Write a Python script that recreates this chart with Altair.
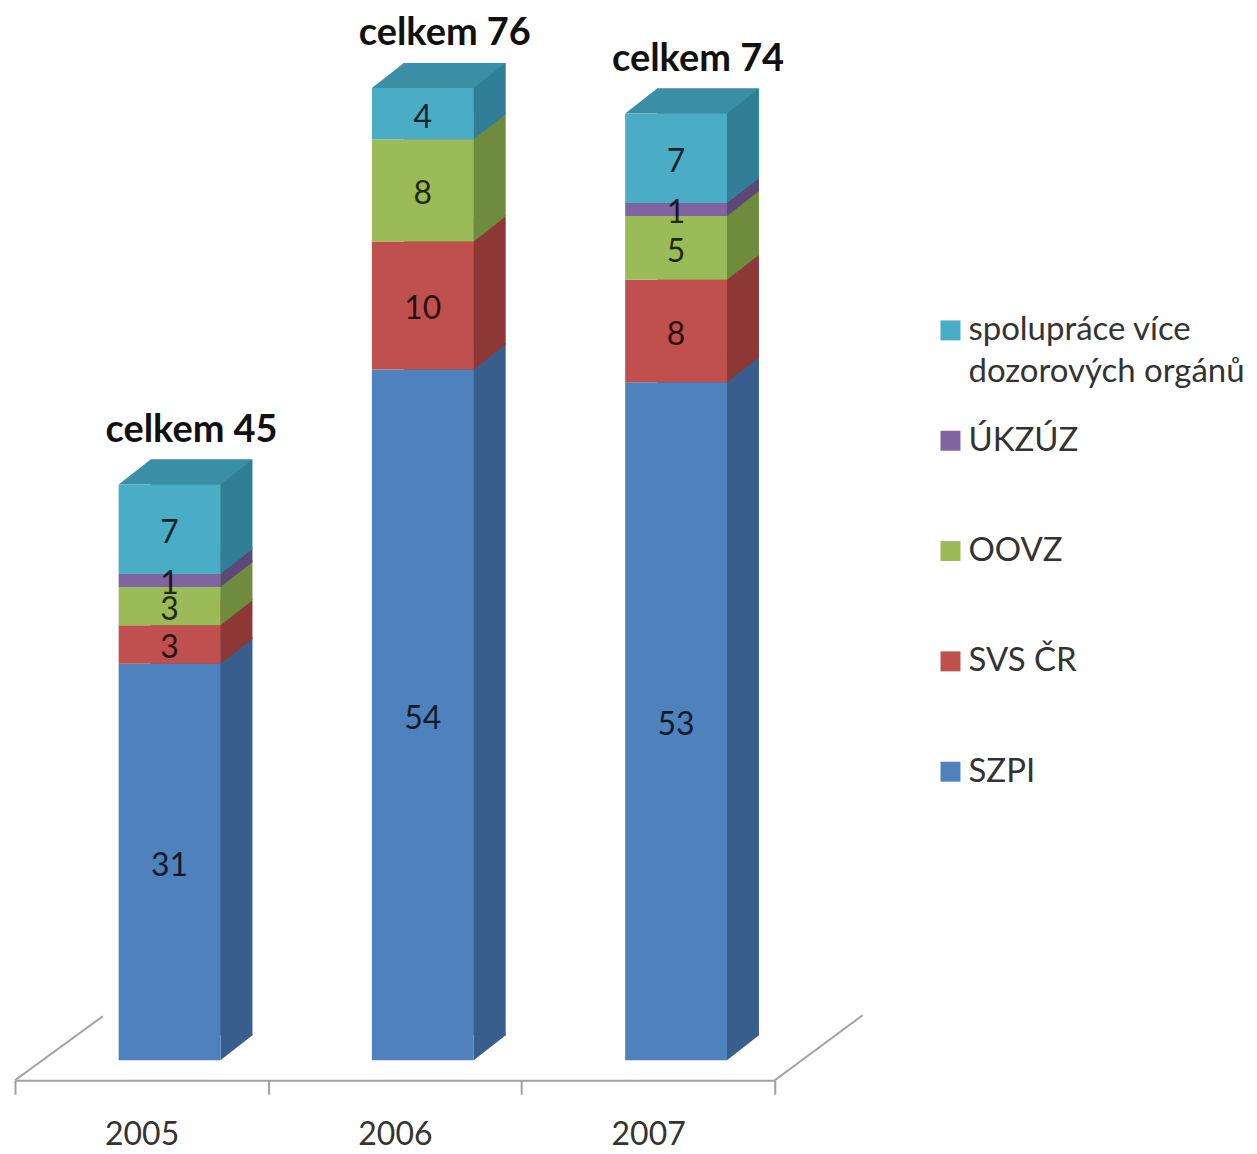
import altair as alt
import pandas as pd

# ---------------- data ----------------
YEARS = ["2005", "2006", "2007"]
SERIES = ["SZPI", "SVS ČR", "OOVZ", "ÚKZÚZ", "spolupráce více dozorových orgánů"]  # bottom -> top
SZPI = [31, 54, 53]
SVS_CR = [3, 10, 8]
OOVZ = [3, 8, 5]
UKZUZ = [1, 0, 1]
SPOLUPRACE = [7, 4, 7]
TOTAL_PREFIX = "celkem"
LEGEND_ORDER = ["spolupráce více dozorových orgánů", "ÚKZÚZ", "OOVZ", "SVS ČR", "SZPI"]
LEGEND_LABELS = ["spolupráce více\ndozorových orgánů", "ÚKZÚZ", "OOVZ", "SVS ČR", "SZPI"]

# ---------------- styles ----------------
FRONT = ["#4f81bd", "#c0504d", "#9bbb59", "#8064a2", "#4bacc6"]
SIDE = ["#375e8c", "#8e3835", "#6f8b3e", "#5c4776", "#307f96"]
TOP = "#3a8ea6"
FONT = "Lato"
W, H = 761, 1043
YMAX = 81.4
BAR_W = 102
FRONT_DX = 28
DEPTH_X, DEPTH_Y = 32, 25

values_by_series = [SZPI, SVS_CR, OOVZ, UKZUZ, SPOLUPRACE]
rows = []
for yi, year in enumerate(YEARS):
    base = 0
    for si, s in enumerate(SERIES):
        v = values_by_series[si][yi]
        rows.append(dict(year=year, series=s, value=v, y0=base, y1=base + v, mid=base + v / 2))
        base += v
seg = pd.DataFrame(rows)
seg_nz = seg[seg.value > 0].reset_index(drop=True)
tot = seg.groupby("year", as_index=False, sort=False)["value"].sum().rename(columns={"value": "total"})
tot["label"] = TOTAL_PREFIX + " " + tot["total"].astype(str)
leg = pd.DataFrame({"series": LEGEND_ORDER, "label": LEGEND_LABELS})

x_enc = alt.X(
    "year:N",
    scale=alt.Scale(domain=YEARS, paddingInner=0, paddingOuter=0),
    axis=alt.Axis(
        title=None, labelAngle=0, labelFont=FONT, labelFontSize=32, labelColor="#333333",
        labelPadding=25, tickBand="extent", tickSize=14, tickColor="#a0a0a0", tickWidth=2,
        domainColor="#a0a0a0", domainWidth=2, offset=20, grid=False,
    ),
)
yscale = alt.Scale(domain=[0, YMAX], nice=False, zero=True)
front_color = alt.Color("series:N", scale=alt.Scale(domain=SERIES, range=FRONT), legend=None)
side_color = alt.Color("series:N", scale=alt.Scale(domain=SERIES, range=SIDE), legend=None)

half = 32
dyu = DEPTH_Y / half
tri_path = "M 0 0 L 1 -{a:.5f} L 1 -{b:.5f} L 0 -{b:.5f} Z".format(a=dyu, b=dyu + 1.5 / half)
tw = BAR_W + DEPTH_X
th = tw / 2
top_path = "M 0 0 L {a:.5f} -{b:.5f} L 2 -{b:.5f} L {c:.5f} 0 Z".format(
    a=DEPTH_X / th, b=DEPTH_Y / th, c=BAR_W / th)

floor_left = alt.Chart(pd.DataFrame({"k": [0]})).mark_rule(color="#a0a0a0", strokeWidth=2).encode(
    x=alt.value(0), x2=alt.value(88), y=alt.value(H + 20), y2=alt.value(H - 44))
floor_right = alt.Chart(pd.DataFrame({"k": [0]})).mark_rule(color="#a0a0a0", strokeWidth=2).encode(
    x=alt.value(W), x2=alt.value(W + 88), y=alt.value(H + 20), y2=alt.value(H - 45))

depth = alt.Chart(seg_nz).mark_bar(
    width=BAR_W, xOffset=FRONT_DX + DEPTH_X, yOffset=-DEPTH_Y, y2Offset=-DEPTH_Y
).encode(
    x=x_enc,
    y=alt.Y("y0:Q", scale=yscale, axis=None),
    y2="y1:Q",
    color=side_color,
)
tris = alt.Chart(seg_nz).mark_point(
    shape=tri_path, size=(2 * half) ** 2, filled=True, opacity=1, strokeWidth=0,
    xOffset=FRONT_DX + BAR_W / 2,
).encode(
    x=x_enc,
    y=alt.Y("y0:Q", scale=yscale, axis=None),
    color=side_color,
)
top_face = alt.Chart(tot).mark_point(
    shape=top_path, size=(2 * th) ** 2, filled=True, opacity=1, strokeWidth=0,
    color=TOP, xOffset=FRONT_DX - BAR_W / 2,
).encode(
    x=x_enc,
    y=alt.Y("total:Q", scale=yscale, axis=None),
)
front = alt.Chart(seg_nz).mark_bar(width=BAR_W, xOffset=FRONT_DX).encode(
    x=x_enc,
    y=alt.Y("y0:Q", scale=yscale, axis=None),
    y2="y1:Q",
    color=front_color,
)
vals = alt.Chart(seg_nz).mark_text(
    font=FONT, fontSize=32, dx=FRONT_DX, dy=4, baseline="middle", align="center",
    color="black", opacity=0.78,
).encode(
    x=x_enc,
    y=alt.Y("mid:Q", scale=yscale, axis=None),
    text="value:Q",
)
totals = alt.Chart(tot).mark_text(
    font=FONT, fontSize=38, fontWeight="bold", dx=50, dy=-43, baseline="alphabetic",
    align="center", color="#111111",
).encode(
    x=x_enc,
    y=alt.Y("total:Q", scale=yscale, axis=None),
    text="label:N",
)

bars = alt.layer(floor_left, floor_right, depth, tris, top_face, front, vals, totals).resolve_scale(
    color="independent")

leg_y = alt.Y("series:N", scale=alt.Scale(type="point", domain=LEGEND_ORDER, range=[312, 754], padding=0),
              axis=None)
leg_sym = alt.Chart(leg).mark_square(size=400, opacity=1).encode(
    x=alt.value(937), y=leg_y, color=front_color)
leg_txt = alt.Chart(leg).mark_text(
    align="left", baseline="top", dy=-16, fontSize=33, lineHeight=42, lineBreak="\n",
    font=FONT, color="#333333",
).encode(x=alt.value(955), y=leg_y, text="label:N")
legend = alt.layer(leg_sym, leg_txt)

chart = alt.layer(bars, legend).resolve_scale(y="independent", color="independent").properties(
    width=W, height=H,
    autosize=alt.AutoSizeParams(type="none"),
    padding={"left": 7, "top": 10, "right": 475, "bottom": 90},
    background="white",
).configure_view(stroke=None)

chart.save("out.html", embed_options={"renderer": "svg", "actions": False})
